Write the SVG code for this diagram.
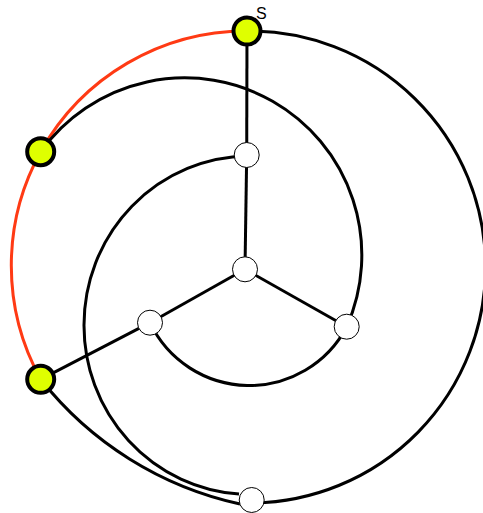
<svg xmlns="http://www.w3.org/2000/svg" width="483" height="513" viewBox="0 0 483 513">
<style>
.e{fill:none;stroke:#000;stroke-width:3}
.r{fill:none;stroke:#ff3a14;stroke-width:3}
.w{fill:#fff;stroke:#000;stroke-width:1}
.y{fill:#dfff00;stroke:#000;stroke-width:4}
.t{font-family:"Liberation Sans",Arial,sans-serif;font-size:16px;fill:#000}
</style>
<rect width="483" height="513" fill="#fff"/>
<g id="edges">
<path class="r" d="M247,31 A235,235 0 0 0 40.7,151.7"/>
<path class="r" d="M40.7,151.7 A235,235 0 0 0 40.7,379.3"/>
<path class="e" d="M247,31 A236,236 0 0 1 252,503"/>
<path class="e" d="M40.7,379.3 A348,348 0 0 0 240,504"/>
<path class="e" d="M40.7,151.7 A177.2,177.2 0 0 1 346.7,326.7"/>
<path class="e" d="M150,322.7 A110,110 0 0 0 346.7,326.7"/>
<path class="e" d="M248,156 A166,169 0 0 0 84,325 A166,169 0 0 0 239,494"/>
<line class="e" x1="247" y1="31" x2="246.7" y2="155"/>
<line class="e" x1="246.7" y1="155" x2="245" y2="269.3"/>
<line class="e" x1="245" y1="269.3" x2="150" y2="322.7"/>
<line class="e" x1="245" y1="269.3" x2="346.7" y2="326.7"/>
<line class="e" x1="150" y1="322.7" x2="40.7" y2="379.3"/>
</g>
<g id="n1"><circle class="w" cx="246.7" cy="155" r="12.5"/></g>
<g id="n2"><circle class="w" cx="245" cy="269.3" r="12.5"/></g>
<g id="n3"><circle class="w" cx="150" cy="322.7" r="12.5"/></g>
<g id="n4"><circle class="w" cx="346.7" cy="326.7" r="12.5"/></g>
<g id="n5"><circle class="w" cx="251.7" cy="500" r="12.5"/></g>
<g id="s"><circle class="y" cx="247" cy="31" r="13.5"/><text class="t" x="256" y="19">S</text></g>
<g id="y1"><circle class="y" cx="40.7" cy="151.7" r="13.5"/></g>
<g id="y2"><circle class="y" cx="40.7" cy="379.3" r="13.5"/></g>
</svg>
